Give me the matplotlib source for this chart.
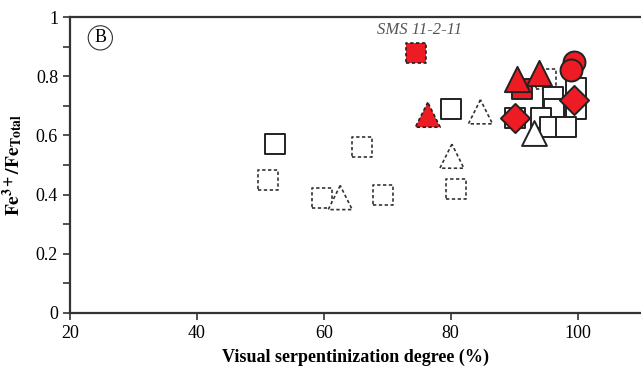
import matplotlib.pyplot as plt

plt.rcParams['font.family'] = ['Liberation Serif', 'DejaVu Serif']
plt.rcParams['mathtext.fontset'] = 'stix'

red = '#ed1c24'

# hollow squares, solid outline
sq_x = [52.3, 80.0, 99.7, 99.7, 96.1, 96.3, 90.1, 94.3, 95.7, 98.2]
sq_y = [0.57, 0.69, 0.76, 0.69, 0.73, 0.69, 0.66, 0.66, 0.63, 0.63]
# hollow squares, dashed outline
dsq_x = [51.2, 59.7, 66.1, 69.3, 80.8, 95.0, 97.8]
dsq_y = [0.45, 0.39, 0.56, 0.40, 0.42, 0.79, 0.645]
# hollow triangles, dashed outline
dtri_x = [62.6, 84.7, 80.2]
dtri_y = [0.39, 0.68, 0.53]
# hollow triangle, solid outline
tri_x = [93.1]
tri_y = [0.61]
# red squares
rsq_x = [91.3]
rsq_y = [0.756]
# red dashed square / triangle (SMS 11-2-11)
rdsq_x = [74.5]
rdsq_y = [0.88]
rdtri_x = [76.4]
rdtri_y = [0.67]
# red triangles
rtri_x = [90.4, 94.0]
rtri_y = [0.79, 0.81]
# red circles
rc_x = [99.4, 99.0]
rc_y = [0.85, 0.82]
# red diamonds
rd_x = [99.4, 90.1]
rd_y = [0.72, 0.66]

fig = plt.figure(figsize=(6.41, 3.73), dpi=100)
ax = fig.add_axes([0.109, 0.161, 0.891, 0.793])

dash = (0, (2.0, 1.5))
ax.scatter(dsq_x, dsq_y, s=210, marker='s', facecolor='white', edgecolor='#333333', linewidths=1.2, linestyles=[dash], zorder=2)
ax.scatter(dtri_x, dtri_y, s=300, marker='^', facecolor='white', edgecolor='#333333', linewidths=1.2, linestyles=[dash], zorder=2)
ax.scatter(sq_x, sq_y, s=210, marker='s', facecolor='white', edgecolor='#222222', linewidths=1.4, zorder=3)
ax.scatter(tri_x, tri_y, s=320, marker='^', facecolor='white', edgecolor='#222222', linewidths=1.4, zorder=3)
ax.scatter(rdsq_x, rdsq_y, s=210, marker='s', facecolor=red, edgecolor='#222222', linewidths=1.2, linestyles=[dash], zorder=4)
ax.scatter(rdtri_x, rdtri_y, s=320, marker='^', facecolor=red, edgecolor='#222222', linewidths=1.2, linestyles=[dash], zorder=4)
ax.scatter(rsq_x, rsq_y, s=210, marker='s', facecolor=red, edgecolor='#222222', linewidths=1.4, zorder=4)
ax.scatter(rtri_x, rtri_y, s=330, marker='^', facecolor=red, edgecolor='#222222', linewidths=1.4, zorder=5)
ax.scatter(rc_x, rc_y, s=250, marker='o', facecolor=red, edgecolor='#222222', linewidths=1.4, zorder=5)
ax.scatter(rd_x, rd_y, s=220, marker='D', facecolor=red, edgecolor='#222222', linewidths=1.4, zorder=5)

ax.set_xlim(20, 110)
ax.set_ylim(0, 1)
ax.set_xticks([20, 40, 60, 80, 100])
ax.set_yticks([0, 0.2, 0.4, 0.6, 0.8, 1.0])
ax.set_yticklabels(['0', '0.2', '0.4', '0.6', '0.8', '1'])
ax.set_yticks([0.1, 0.3, 0.5, 0.7, 0.9], minor=True)
ax.tick_params(axis='both', which='both', direction='out', length=5, width=1.2, labelsize=13, color='#333333')
ax.tick_params(axis='y', which='minor', length=5)
ax.spines['right'].set_visible(False)
for s in ['left', 'bottom', 'top']:
    ax.spines[s].set_linewidth(1.6)
    ax.spines[s].set_color('#333333')

ax.set_xlabel('Visual serpentinization degree (%)', fontsize=13, fontweight='bold', labelpad=5)
ax.set_ylabel(r'$\mathbf{Fe^{3+}/Fe_{Total}}$', fontsize=14, labelpad=8)

ax.text(75.1, 0.955, 'SMS 11-2-11', fontsize=12, style='italic', color='#555555', ha='center', va='center')
ax.text(24.8, 0.93, 'B', fontsize=13, ha='center', va='center',
        bbox=dict(boxstyle='circle,pad=0.2', facecolor='white', edgecolor='#333333', linewidth=0.8))

fig.savefig('out.png', dpi=100)
